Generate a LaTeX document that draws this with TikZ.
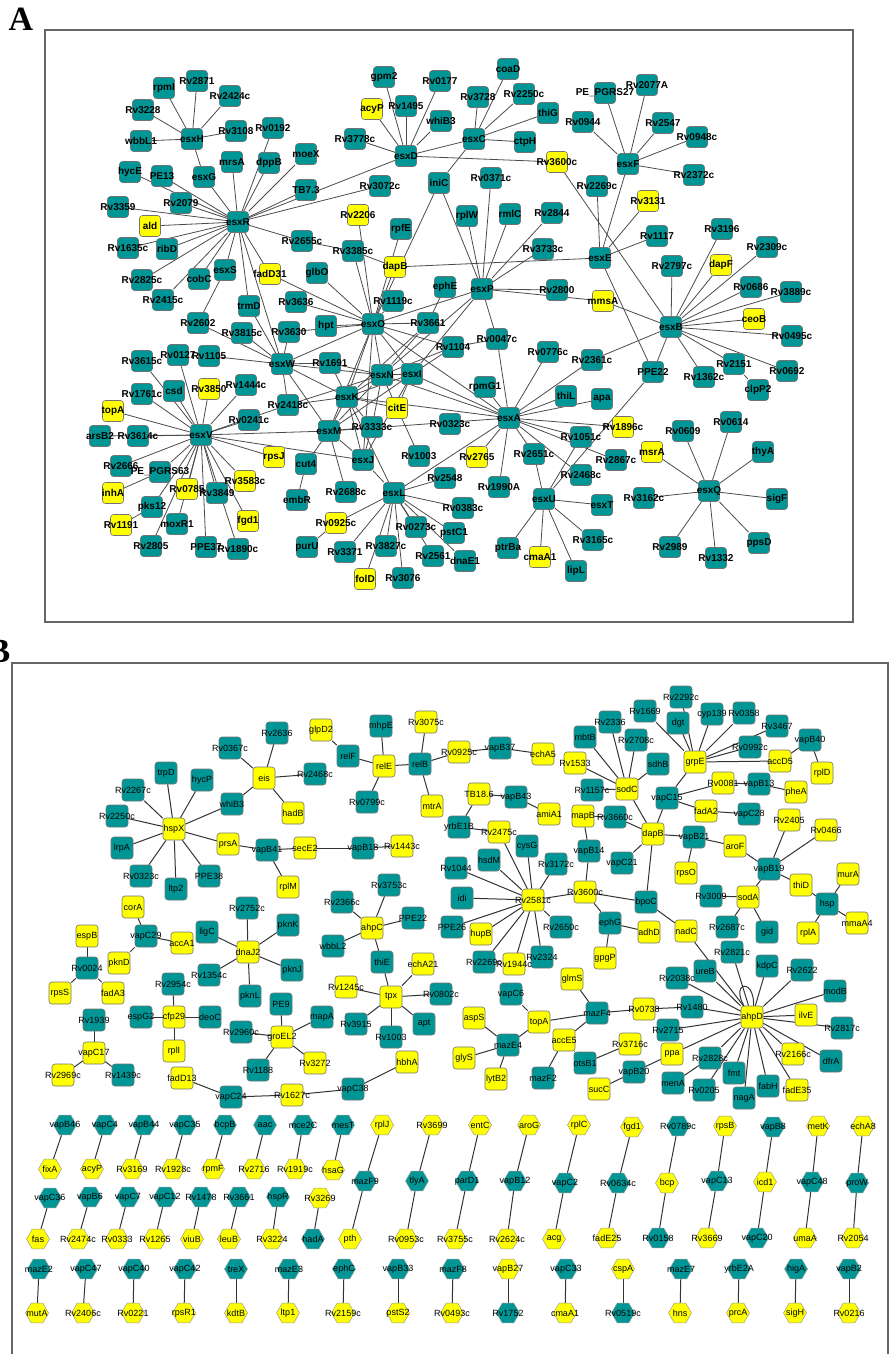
\documentclass[tikz,border=0pt]{standalone}
\usepackage{fontspec}
\setmainfont{Liberation Sans}
\newfontfamily\panelfont{Liberation Serif}
\usetikzlibrary{shapes.geometric,backgrounds}
\definecolor{netteal}{RGB}{0,150,150}
\definecolor{netyellow}{RGB}{255,255,0}
\definecolor{netline}{RGB}{75,75,75}

\def\ateal{esxH/192/139/esxH, rpmI/164/88/rpmI, Rv2871/197/81/Rv2871, Rv2424c/230/96/Rv2424c, Rv3228/143/110/Rv3228,
wbbL1/141/141/wbbL1, Rv3108/236/131/Rv3108, Rv0192/273/128/Rv0192, mrsA/232/162/mrsA, dppB/269/163/dppB,
moeX/306/154/moeX, hycE/130/172/hycE, PE13/162/176/PE13, esxG/204/177/esxG, TB73/306/190/TB7.3,
Rv3359/118/207/Rv3359, Rv2079/181/203/Rv2079, esxR/238/222/esxR, Rv1635c/128/248/Rv1635c, ribD/167/249/ribD,
Rv2655c/302/241/Rv2655c, Rv2825c/142/280/Rv2825c, cobC/199/279/cobC, esxS/225/270/esxS, glbO/317/273/glbO,
Rv2415c/163/300/Rv2415c, trmD/249/306/trmD, Rv3636/296/302/Rv3636, Rv2602/198/323/Rv2602,
gpm2/384/77/gpm2, Rv0177/440/81/Rv0177, coaD/508/69/coaD, Rv1495/406/106/Rv1495, Rv3728/478/97/Rv3728,
Rv2250c/524/94/Rv2250c, thiG/548/113/thiG, whiB3/441/121/whiB3, esxC/474/139/esxC, ctpH/525/142/ctpH,
Rv3778c/355/139/Rv3778c, esxD/406/156/esxD, iniC/439/183/iniC, Rv0371c/491/178/Rv0371c, Rv3072c/380/186/Rv3072c,
rpfE/401/229/rpfE, rplW/467/216/rplW, rmlC/510/214/rmlC, Rv2844/552/213/Rv2844, Rv3385c/353/251/Rv3385c,
Rv3733c/543/249/Rv3733c, ephE/445/287/ephE, esxP/482/289/esxP, Rv2800/557/290/Rv2800, Rv1119c/393/301/Rv1119c,
esxO/373/324/esxO, hpt/326/326/hpt, Rv3661/428/323/Rv3661,
PEPGRS27/605/93/PE\_PGRS27, Rv2077A/647/85/Rv2077A, Rv0944/583/122/Rv0944, Rv2547/663/123/Rv2547, Rv0948c/697/137/Rv0948c,
esxF/628/164/esxF, Rv2372c/694/175/Rv2372c, Rv2269c/597/186/Rv2269c, Rv1117/657/236/Rv1117, esxE/600/258/esxE,
Rv3196/722/229/Rv3196, Rv2309c/767/247/Rv2309c, Rv2797c/672/266/Rv2797c, Rv0686/751/287/Rv0686, Rv3889c/791/292/Rv3889c,
esxB/671/327/esxB, Rv0495c/792/336/Rv0495c, Rv2361c/592/360/Rv2361c, PPE22/653/372/PPE22, Rv1362c/704/377/Rv1362c,
Rv2151/734/364/Rv2151, Rv0692/787/371/Rv0692, clpP2/758/390/clpP2, apa/602/399/apa, Rv0609/683/431/Rv0609,
Rv0614/731/422/Rv0614, thyA/763/452/thyA, Rv2867c/616/460/Rv2867c, esxQ/709/491/esxQ, Rv3162c/644/498/Rv3162c,
sigF/777/499/sigF, esxT/602/505/esxT, Rv3165c/593/540/Rv3165c, Rv2989/670/547/Rv2989, ppsD/759/543/ppsD, Rv1332/716/558/Rv1332,
Rv0047c/497/339/Rv0047c, Rv1104/453/347/Rv1104, Rv0776c/548/352/Rv0776c, Rv1691/330/363/Rv1691, esxN/382/375/esxN,
esxI/412/374/esxI, rpmG1/485/387/rpmG1, thiL/566/396/thiL, esxK/347/397/esxK, esxA/509/418/esxA,
esxM/329/431/esxM, Rv3333c/372/427/Rv3333c, Rv0323c/450/424/Rv0323c, Rv1051c/581/437/Rv1051c, esxJ/363/460/esxJ,
Rv1003/419/456/Rv1003, Rv2651c/534/454/Rv2651c, Rv2468c/581/475/Rv2468c, Rv2548/445/478/Rv2548, Rv2688c/346/492/Rv2688c,
esxL/394/493/esxL, Rv1990A/499/487/Rv1990A, esxU/544/499/esxU, Rv0383c/463/508/Rv0383c, Rv0273c/416/527/Rv0273c,
pstC1/454/533/pstC1, ptrBa/508/548/ptrBa, Rv3371/345/552/Rv3371, Rv3827c/386/546/Rv3827c, Rv2561/433/556/Rv2561,
dnaE1/465/561/dnaE1, lipL/576/571/lipL, Rv3076/403/578/Rv3076, purU/307/547/purU,
Rv3815c/242/333/Rv3815c, Rv3630/289/332/Rv3630, Rv3615c/142/361/Rv3615c, Rv0127/178/355/Rv0127, Rv1105/209/356/Rv1105,
esxW/282/364/esxW, csd/174/391/csd, Rv1444c/246/385/Rv1444c, Rv1761c/142/394/Rv1761c, Rv2418c/288/405/Rv2418c,
Rv0241c/249/420/Rv0241c, arsB2/100/436/arsB2, Rv3614c/138/436/Rv3614c, esxV/201/435/esxV, cut4/306/464/cut4,
Rv2666/121/466/Rv2666, PEPGRS63/160/472/PE\_PGRS63, Rv3849/217/493/Rv3849, embR/297/500/embR, pks12/152/507/pks12,
moxR1/177/524/moxR1, Rv2805/151/546/Rv2805, PPE37/206/547/PPE37, Rv1890c/238/549/Rv1890c}

\def\ayel{ald/150/226/ald, fadD31/270/274/fadD31, acyP/372/109/acyP, Rv3600c/557/162/Rv3600c, Rv2206/358/215/Rv2206,
dapB/395/267/dapB, Rv3131/648/201/Rv3131, dapF/721/265/dapF, mmsA/603/301/mmsA, ceoB/754/319/ceoB,
Rv1896c/623/427/Rv1896c, msrA/652/452/msrA, citE/397/408/citE, Rv2765/477/457/Rv2765, Rv0925c/336/523/Rv0925c,
folD/365/579/folD, cmaA1/540/557/cmaA1, Rv3850/209/389/Rv3850, topA/113/411/topA, rpsJ/274/457/rpsJ,
inhA/113/493/inhA, Rv0785/187/489/Rv0785, Rv3583c/245/481/Rv3583c, fgd1/248/521/fgd1, Rv1191/121/525/Rv1191}

\def\bteal{bRv2636/277/733/Rv2636, bRv0367c/230/748/Rv0367c, bRv2468c/315/774/Rv2468c, btrpD/166/773/trpD,
bhycP/202/780/hycP, bRv2267c/133/790/Rv2267c, bwhiB3/232/804/whiB3, bRv2250c/117/816/Rv2250c, bvapB41/267/850/vapB41,
blrpA/122/848/lrpA, bRv0323c/141/876/Rv0323c, bPPE38/209/876/PPE38, bltp2/176/889/ltp2, bRv2752c/247/908/Rv2752c,
bligC/207/932/ligC, bpknK/288/925/pknK, bvapC29/146/936/vapC29, bRv0024/87/968/Rv0024, bpknJ/292/970/pknJ,
bRv1354c/209/975/Rv1354c, bpknL/250/996/pknL, bRv2954c/173/984/Rv2954c, bPE9/281/1004/PE9, bespG2/141/1017/espG2,
bdeoC/210/1017/deoC, bRv1939/94/1020/Rv1939, bRv2960c/241/1032/Rv2960c, bRv1188/258/1070/Rv1188, bRv1439c/123/1075/Rv1439c,
bvapC24/231/1097/vapC24, bmapA/322/1017/mapA, bmhpE/381/726/mhpE, brelF/348/756/relF, brelB/420/764/relB,
bvapB37/500/748/vapB37, bRv0799c/367/802/Rv0799c, bvapB43/516/797/vapB43, bmbtB/585/737/mbtB, byrbE1B/459/827/yrbE1B,
bcysG/527/846/cysG, bvapB18/363/848/vapB18, bhsdM/489/860/hsdM, bRv1044/456/868/Rv1044, bRv3172c/556/864/Rv3172c,
bvapB14/589/851/vapB14, bRv3753c/389/885/Rv3753c, bidi/462/898/idi, bRv2366c/342/902/Rv2366c, bPPE22/413/918/PPE22,
bPPE26/452/927/PPE26, bRv2650c/561/927/Rv2650c, bwbbL2/333/946/wbbL2, bthiE/382/962/thiE, bRv2269c/484/962/Rv2269c,
bRv2324/542/957/Rv2324, bRv0802c/441/994/Rv0802c, bvapC6/511/994/vapC6, bmazF4/597/1013/mazF4, bRv3915/356/1024/Rv3915,
bapt/424/1024/apt, bRv1003/391/1037/Rv1003, bmazE4/508/1045/mazE4, botsB1/585/1063/otsB1, bmazF2/543/1078/mazF2,
bvapC38/353/1089/vapC38, bRv2292c/681/697/Rv2292c, bRv1669/645/711/Rv1669, bdgt/678/723/dgt, bcyp139/712/714/cyp139,
bRv0358/744/713/Rv0358, bRv2336/610/722/Rv2336, bRv3467/777/726/Rv3467, bvapB40/810/740/vapB40, bRv2708c/636/740/Rv2708c,
bRv0992c/750/747/Rv0992c, bsdhB/658/764/sdhB, bRv1157c/592/790/Rv1157c, bvapB13/759/784/vapB13, bvapC15/667/798/vapC15,
bvapC28/749/814/vapC28, bRv3660c/615/817/Rv3660c, bvapB21/694/837/vapB21, bvapC21/622/863/vapC21, bvapB19/769/869/vapB19,
bRv3009/711/896/Rv3009, bbpoC/646/902/bpoC, bhsp/827/904/hsp, bRv2687c/727/927/Rv2687c, bgid/767/932/gid,
bephG/610/923/ephG, bRv2821c/732/952/Rv2821c, bkdpC/767/966/kdpC, bRv2622/802/970/Rv2622, bureB/705/971/ureB,
bRv2038c/677/978/Rv2038c, bmodB/835/991/modB, bRv1480/692/1007/Rv1480, bRv2817c/842/1028/Rv2817c, bRv2715/668/1030/Rv2715,
bRv2828c/710/1058/Rv2828c, bdfrA/831/1061/dfrA, bfmt/734/1073/fmt, bfabH/768/1086/fabH, bmenA/673/1083/menA,
bRv0205/704/1090/Rv0205, bnagA/744/1098/nagA, bvapB20/634/1072/vapB20}

\def\byel{beis/264/778/eis, bhadB/293/813/hadB, bhspX/174/829/hspX, bprsA/228/844/prsA, bsecE2/305/848/secE2,
brplM/288/887/rplM, bcorA/133/907/corA, bespB/87/936/espB, baccA1/182/943/accA1, bdnaJ2/248/952/dnaJ2,
bpknD/119/963/pknD, brpsS/60/993/rpsS, bfadA3/113/993/fadA3, bcfp29/174/1017/cfp29, bgroEL2/282/1037/groEL2,
brplI/174/1051/rplI, bvapC17/94/1053/vapC17, bRv2969c/63/1075/Rv2969c, bfadD13/182/1078/fadD13, bRv1627c/292/1095/Rv1627c,
bRv3272/315/1063/Rv3272, bglpD2/321/730/glpD2, bRv3075c/426/722/Rv3075c, brelE/384/766/relE, bRv0925c/459/752/Rv0925c,
bechA5/543/754/echA5, bmtrA/432/806/mtrA, bTB186/479/794/TB18.6, bamiA1/549/814/amiA1, bRv1533/575/763/Rv1533,
bRv2475c/499/832/Rv2475c, bmapB/583/816/mapB, bRv1443c/402/846/Rv1443c, bRv2581c/533/900/Rv2581c, bRv3600c/585/892/Rv3600c,
bahpC/372/928/ahpC, bhupB/481/934/hupB, bRv1944c/514/964/Rv1944c, bechA21/423/964/echA21, bglmS/572/979/glmS,
bRv1245c/346/987/Rv1245c, btpx/391/997/tpx, baspS/474/1018/aspS, btopA/539/1022/topA, baccE5/564/1040/accE5,
bglyS/464/1058/glyS, bhbhA/407/1062/hbhA, blytB2/496/1079/lytB2, bsucC/599/1089/sucC, bgrpE/695/762/grpE,
baccD5/780/761/accD5, brplD/822/773/rplD, bsodC/627/789/sodC, bRv0081/723/783/Rv0081, bpheA/796/792/pheA,
bfadA2/706/811/fadA2, bRv2405/789/820/Rv2405, bRv0466/826/830/Rv0466, bdapB/653/834/dapB, baroF/735/846/aroF,
brpsO/686/873/rpsO, bmurA/848/874/murA, bthiD/801/885/thiD, bsodA/748/897/sodA, bmmaA4/857/923/mmaA4,
badhD/649/932/adhD, bnadC/686/931/nadC, brplA/808/933/rplA, bgpgP/605/958/gpgP, bRv0738/644/1009/Rv0738,
bahpD/752/1017/ahpD, bilvE/806/1015/ilvE, bRv3716c/630/1044/Rv3716c, bppa/672/1054/ppa, bRv2166c/793/1054/Rv2166c,
bfadE35/797/1090/fadE35}

\def\hteal{hvapB46/65/1125/vapB46, hvapC4/105/1125/vapC4, hvapB44/144/1125/vapB44, hvapC35/185/1125/vapC35,
hbcpB/225/1125/bcpB, haac/265/1125/aac, hmce2C/303/1125/mce2C, hmesT/343/1125/mesT, hmazF9/365/1181/mazF9,
htlyA/417/1181/tlyA, hparD1/467/1181/parD1, hvapB12/515/1181/vapB12, hvapC2/565/1183/vapC2, hRv0634c/618/1183/Rv0634c,
hRv0789c/678/1126/Rv0789c, hRv0158/658/1238/Rv0158, hvapC13/717/1181/vapC13, hvapB8/773/1127/vapB8, hvapC20/757/1238/vapC20,
hvapC48/812/1182/vapC48, hproW/857/1183/proW, hvapC36/50/1198/vapC36, hvapB6/90/1197/vapB6, hvapC7/128/1197/vapC7,
hvapC12/165/1197/vapC12, hRv1478/201/1197/Rv1478, hRv3661/239/1197/Rv3661, hhspR/278/1197/hspR, hhadA/313/1239/hadA,
hmazE2/39/1269/mazE2, hvapC47/86/1269/vapC47, hvapC40/134/1269/vapC40, hvapC42/185/1269/vapC42, htreX/236/1269/treX,
hmazE3/289/1269/mazE3, hephC/344/1269/ephC, hvapB33/398/1269/vapB33, hmazF8/453/1269/mazF8, hRv1752/508/1313/Rv1752,
hvapC33/566/1269/vapC33, hRv0519c/623/1313/Rv0519c, hmazE7/681/1269/mazE7, hyrbE2A/739/1269/yrbE2A, hhigA/796/1269/higA,
hvapB2/849/1269/vapB2}

\def\hyel{hfixA/50/1169/fixA, hacyP/92/1169/acyP, hRv3169/132/1169/Rv3169, hRv1928c/173/1169/Rv1928c, hrpmF/213/1169/rpmF,
hRv2716/254/1169/Rv2716, hRv1919c/295/1169/Rv1919c, hhsaG/333/1170/hsaG, hrplJ/382/1125/rplJ, hpth/350/1239/pth,
hRv3699/432/1125/Rv3699, hRv0953c/406/1239/Rv0953c, hentC/480/1125/entC, hRv3755c/455/1239/Rv3755c, haroG/529/1125/aroG,
hRv2624c/507/1239/Rv2624c, hrplC/579/1125/rplC, hacg/554/1239/acg, hfgd1/632/1127/fgd1, hfadE25/607/1238/fadE25,
hbcp/667/1183/bcp, hrpsB/725/1126/rpsB, hRv3669/707/1238/Rv3669, hicd1/765/1182/icd1, hmetK/818/1126/metK,
humaA/805/1238/umaA, hechA8/863/1126/echA8, hRv2054/853/1238/Rv2054, hfas/38/1239/fas, hRv2474c/78/1239/Rv2474c,
hRv0333/117/1239/Rv0333, hRv1265/155/1239/Rv1265, hviuB/192/1239/viuB, hleuB/229/1239/leuB, hRv3224/272/1239/Rv3224,
hRv3269/320/1198/Rv3269, hmutA/37/1313/mutA, hRv2406c/83/1313/Rv2406c, hRv0221/133/1313/Rv0221, hrpsR1/184/1313/rpsR1,
hkdtB/236/1313/kdtB, hltp1/288/1313/ltp1, hRv2159c/343/1313/Rv2159c, hpstS2/398/1313/pstS2, hRv0493c/452/1313/Rv0493c,
hvapB27/508/1269/vapB27, hcmaA1/565/1313/cmaA1, hcspA/623/1269/cspA, hhns/680/1313/hns, hprcA/738/1313/prcA,
hsigH/795/1313/sigH, hRv0216/849/1313/Rv0216}

\begin{document}
\begin{tikzpicture}[x=1pt,y=-1pt,
  boxa/.style={rectangle,rounded corners=3pt,draw=black!55,line width=0.6pt,minimum size=21pt,inner sep=0pt},
  boxb/.style={rectangle,rounded corners=3pt,draw=black!55,line width=0.6pt,minimum size=22pt,inner sep=0pt},
  hexb/.style={regular polygon,regular polygon sides=6,draw=black!40,line width=0.5pt,minimum size=23pt,inner sep=0pt},
  lbla/.style={font=\fontsize{10}{12}\selectfont\bfseries,inner sep=0pt},
  lblb/.style={font=\fontsize{9}{11}\selectfont,inner sep=0pt},
  edgea/.style={draw=netline,line width=0.8pt},
  edgeb/.style={draw=black!80,line width=1pt},
  frame/.style={draw=black!60,line width=1.6pt},
  panel/.style={font=\panelfont\fontsize{34}{36}\selectfont\bfseries,inner sep=0pt}]
\useasboundingbox (0,0) rectangle (890,1354);
\node[panel] (labA) at (21,19) {A};
\node[panel] (labB) at (-1,651) {B};
\foreach \n/\x/\y/\t in \ateal {\node[boxa,fill=netteal] (\n) at (\x,\y) {};}
\foreach \n/\x/\y/\t in \ayel {\node[boxa,fill=netyellow] (\n) at (\x,\y) {};}
\foreach \n/\x/\y/\t in \bteal {\node[boxb,fill=netteal] (\n) at (\x,\y) {};}
\foreach \n/\x/\y/\t in \byel {\node[boxb,fill=netyellow] (\n) at (\x,\y) {};}
\foreach \n/\x/\y/\t in \hteal {\node[hexb,fill=netteal] (\n) at (\x,\y) {};}
\foreach \n/\x/\y/\t in \hyel {\node[hexb,fill=netyellow] (\n) at (\x,\y) {};}
\foreach \n/\x/\y/\t in \ateal {\node[lbla] at (\n) {\t};}
\foreach \n/\x/\y/\t in \ayel {\node[lbla] at (\n) {\t};}
\foreach \n/\x/\y/\t in \bteal {\node[lblb] at (\n) {\t};}
\foreach \n/\x/\y/\t in \byel {\node[lblb] at (\n) {\t};}
\foreach \n/\x/\y/\t in \hteal {\node[lblb] at (\n) {\t};}
\foreach \n/\x/\y/\t in \hyel {\node[lblb] at (\n) {\t};}
\begin{scope}[on background layer]
\draw[frame] (45,30) rectangle (853,622);
\draw[frame] (12,663) rectangle (888,1380);
\foreach \a/\b in {esxH/rpmI, esxH/Rv2871, esxH/Rv2424c, esxH/Rv3228, esxH/wbbL1, esxH/Rv3108, esxH/esxG,
esxR/esxG, esxR/mrsA, esxR/dppB, esxR/Rv0192, esxR/moeX, esxR/TB73, esxR/esxD, esxR/Rv3072c, esxR/hycE, esxR/PE13,
esxR/Rv2079, esxR/Rv3359, esxR/ald, esxR/Rv1635c, esxR/ribD, esxR/Rv2825c, esxR/cobC, esxR/esxS, esxR/Rv2415c,
esxR/fadD31, esxR/Rv2655c, esxR/trmD, esxR/esxW, esxS/Rv2602, Rv2602/esxW, trmD/esxW, fadD31/esxO, glbO/esxO,
Rv3636/esxO, Rv3630/esxW, Rv3630/esxO, Rv3815c/esxW, hpt/esxO, Rv2655c/Rv3385c, Rv3385c/dapB, Rv3385c/esxO,
Rv2206/esxO, rpfE/esxO, dapB/esxO, iniC/esxO, Rv1119c/esxO, dapB/esxE,
esxD/gpm2, esxD/acyP, esxD/Rv1495, esxD/Rv0177, esxD/whiB3, esxD/Rv3778c, esxD/esxC, esxD/Rv3600c,
esxC/Rv3728, esxC/coaD, esxC/Rv2250c, esxC/thiG, esxC/ctpH, esxC/iniC, iniC/esxP,
esxP/Rv0371c, esxP/rplW, esxP/rmlC, esxP/Rv2844, esxP/Rv3733c, esxP/Rv2800, esxP/mmsA, esxP/esxO, esxP/esxI,
esxP/esxN, esxP/Rv0047c, ephE/Rv3661, Rv3600c/esxB, Rv2269c/esxE, esxF/PEPGRS27, esxF/Rv2077A, esxF/Rv0944,
esxF/Rv2547, esxF/Rv0948c, esxF/Rv2372c, esxF/esxE, esxE/Rv3131, esxE/Rv1117, esxE/PPE22,
esxB/Rv3196, esxB/Rv2309c, esxB/Rv2797c, esxB/dapF, esxB/Rv0686, esxB/Rv3889c, esxB/ceoB, esxB/mmsA, esxB/Rv0495c,
esxB/Rv0692, esxB/Rv2151, esxB/Rv1362c, esxB/PPE22, esxB/Rv2361c, Rv2151/clpP2, PPE22/esxU,
esxA/Rv0776c, esxA/Rv2361c, esxA/thiL, esxA/apa, esxA/Rv1051c, esxA/Rv2468c, esxA/Rv2651c, esxA/Rv1990A, esxA/Rv2765,
esxA/esxL, esxA/esxM, esxA/esxK, esxA/esxI, esxA/esxN, esxA/rpmG1, esxA/esxO, esxA/Rv1896c, esxA/Rv2867c, esxA/Rv0047c,
esxU/Rv2651c, esxU/Rv1051c, esxU/esxT, esxU/ptrBa, esxU/cmaA1, esxU/lipL, esxU/Rv3165c,
esxQ/msrA, esxQ/Rv0609, esxQ/Rv0614, esxQ/thyA, esxQ/Rv3162c, esxQ/sigF, esxQ/Rv2989, esxQ/Rv1332, esxQ/ppsD,
esxL/Rv2548, esxL/Rv0383c, esxL/pstC1, esxL/dnaE1, esxL/Rv2561, esxL/Rv0273c, esxL/Rv3076, esxL/Rv3827c, esxL/folD,
esxL/Rv3371, esxL/Rv0925c, esxL/esxJ, esxL/esxK, Rv0925c/purU, esxM/Rv2688c,
esxO/esxN, esxO/esxI, esxO/esxK, esxO/esxM, esxO/esxW, esxO/Rv3661, esxO/Rv1104, esxO/esxJ,
esxW/Rv1691, esxW/esxK, esxW/esxN, esxW/esxM, esxW/Rv2418c, esxW/Rv1105,
esxV/Rv3615c, esxV/Rv0127, esxV/csd, esxV/Rv3850, esxV/Rv1444c, esxV/Rv1761c, esxV/topA, esxV/Rv0241c, esxV/Rv3614c,
esxV/arsB2, esxV/Rv2666, esxV/PEPGRS63, esxV/Rv0785, esxV/Rv3849, esxV/Rv3583c, esxV/fgd1, esxV/pks12, esxV/moxR1,
esxV/Rv2805, esxV/PPE37, esxV/Rv1890c, esxV/rpsJ, esxV/esxM, esxV/esxJ, esxV/Rv2418c, inhA/PEPGRS63, Rv1191/pks12,
Rv2418c/esxK, Rv2418c/esxN, Rv3661/esxK, Rv3661/esxN, Rv1104/esxI, Rv1104/esxN, Rv1104/Rv0047c,
esxN/esxK, esxN/esxI, esxN/citE, esxN/esxM, esxN/Rv3333c, esxI/esxK, esxI/citE, esxI/esxM, esxI/esxJ,
esxK/esxM, esxK/Rv3333c, esxK/esxJ, esxK/Rv1691, esxM/Rv3333c, esxM/esxJ, cut4/esxM, embR/cut4, citE/Rv1003,
Rv3333c/esxJ, esxK/citE, Rv1691/esxN} \draw[edgea] (\a) -- (\b);
\foreach \a/\b in {beis/bRv2636, beis/bRv0367c, beis/bRv2468c, beis/bwhiB3, beis/bhadB,
bhspX/btrpD, bhspX/bhycP, bhspX/bRv2267c, bhspX/bRv2250c, bhspX/bwhiB3, bhspX/blrpA, bhspX/bRv0323c, bhspX/bltp2,
bhspX/bPPE38, bhspX/bprsA, bprsA/bvapB41, bvapB41/bsecE2, bvapB41/brplM, bsecE2/bvapB18, bvapB18/bRv1443c,
bglpD2/brelF, brelF/brelE, brelE/bmhpE, brelE/bRv0799c, brelE/brelB, brelB/bRv3075c, brelB/bmtrA, brelB/bRv0925c,
bRv0925c/bvapB37, bvapB37/bechA5, bTB186/bvapB43, bvapB43/bamiA1, bTB186/byrbE1B, byrbE1B/bRv2475c,
bRv2581c/bRv2475c, bRv2581c/bcysG, bRv2581c/bhsdM, bRv2581c/bRv1044, bRv2581c/bRv3172c, bRv2581c/bidi,
bRv2581c/bPPE26, bRv2581c/bhupB, bRv2581c/bRv2269c, bRv2581c/bRv1944c, bRv2581c/bRv2324, bRv2581c/bRv2650c,
bRv2581c/bRv3600c, bRv3600c/bbpoC, bRv3600c/bvapB14, bvapB14/bmapB, bmapB/bRv3660c, bRv3660c/bdapB,
bdapB/bsodC, bdapB/bvapC15, bdapB/bvapC21, bdapB/bvapB21, bdapB/bbpoC,
bsodC/bRv2336, bsodC/bRv2708c, bsodC/bsdhB, bsodC/bRv1157c, bsodC/bmbtB, bsodC/bRv1533,
bgrpE/bRv1669, bgrpE/bdgt, bgrpE/bRv2292c, bgrpE/bcyp139, bgrpE/bRv0358, bgrpE/bRv3467, bgrpE/bRv0992c,
bgrpE/baccD5, bgrpE/bvapC15, baccD5/bvapB40, bvapB40/brplD, bvapC15/bRv0081, bRv0081/bvapB13, bvapB13/bpheA,
bvapC15/bfadA2, bfadA2/bvapC28, bvapB21/baroF, bvapB21/brpsO, baroF/bvapB19, bvapB19/bRv2405, bvapB19/bRv0466,
bvapB19/bthiD, bvapB19/bsodA, bthiD/bhsp, bhsp/bmurA, bhsp/bmmaA4, bhsp/brplA, bsodA/bRv3009, bsodA/bRv2687c,
bsodA/bgid, bbpoC/bnadC, bnadC/bahpD, bephG/badhD, bephG/bgpgP, bRv3600c/bephG,
bahpD/bRv2821c, bahpD/bkdpC, bahpD/bRv2622, bahpD/bureB, bahpD/bRv2038c, bahpD/bmodB, bahpD/bRv1480, bahpD/bilvE,
bahpD/bRv2817c, bahpD/bRv2715, bahpD/bppa, bahpD/bRv2828c, bahpD/bRv2166c, bahpD/bdfrA, bahpD/bfmt, bahpD/bfabH,
bahpD/bfadE35, bahpD/bnagA, bahpD/bRv0205, bmazF4/bRv0738, bRv0738/bRv1480, bmazF4/btopA, bmazF4/bglmS,
bmazF4/baccE5, btopA/bmazE4, btopA/bvapC6, bmazE4/baspS, bmazE4/bglyS, bmazE4/blytB2, baccE5/bmazF2,
baccE5/botsB1, botsB1/bRv3716c, bppa/bvapB20, bvapB20/bsucC, bmenA/bRv2828c,
bahpC/bRv2366c, bahpC/bRv3753c, bahpC/bPPE22, bahpC/bwbbL2, bahpC/bthiE, bthiE/btpx,
btpx/bechA21, btpx/bRv1245c, btpx/bRv0802c, btpx/bRv3915, btpx/bRv1003, btpx/bapt,
bhbhA/bvapC38, bvapC38/bRv1627c, bRv1627c/bvapC24, bvapC24/bfadD13,
bdnaJ2/bRv2752c, bdnaJ2/bligC, bdnaJ2/bpknK, bdnaJ2/bRv1354c, bdnaJ2/bpknJ, bdnaJ2/bpknL,
bvapC29/bcorA, bvapC29/baccA1, bvapC29/bpknD, bRv0024/bespB, bRv0024/brpsS, bRv0024/bfadA3,
bcfp29/bRv2954c, bcfp29/bespG2, bcfp29/bdeoC, bcfp29/brplI, bgroEL2/bPE9, bgroEL2/bRv2960c, bgroEL2/bRv1188,
bgroEL2/bRv3272, bgroEL2/bmapA, bvapC17/bRv1939, bvapC17/bRv2969c, bvapC17/bRv1439c} \draw[edgeb] (\a) -- (\b);
\draw[edgeb] (bahpD.center) .. controls (762,972) and (720,980) .. (bahpD.center);
\foreach \a/\b in {hvapB46/hfixA, hvapC4/hacyP, hvapB44/hRv3169, hvapC35/hRv1928c, hbcpB/hrpmF, haac/hRv2716,
hmce2C/hRv1919c, hmesT/hhsaG, hrplJ/hmazF9, hmazF9/hpth, hRv3699/htlyA, htlyA/hRv0953c, hentC/hparD1,
hparD1/hRv3755c, haroG/hvapB12, hvapB12/hRv2624c, hrplC/hvapC2, hvapC2/hacg, hfgd1/hRv0634c, hRv0634c/hfadE25,
hRv0789c/hbcp, hbcp/hRv0158, hrpsB/hvapC13, hvapC13/hRv3669, hvapB8/hicd1, hicd1/hvapC20, hmetK/hvapC48,
hvapC48/humaA, hechA8/hproW, hproW/hRv2054, hvapC36/hfas, hvapB6/hRv2474c, hvapC7/hRv0333, hvapC12/hRv1265,
hRv1478/hviuB, hRv3661/hleuB, hhspR/hRv3224, hRv3269/hhadA, hmazE2/hmutA, hvapC47/hRv2406c, hvapC40/hRv0221,
hvapC42/hrpsR1, htreX/hkdtB, hmazE3/hltp1, hephC/hRv2159c, hvapB33/hpstS2, hmazF8/hRv0493c, hvapB27/hRv1752,
hvapC33/hcmaA1, hcspA/hRv0519c, hmazE7/hhns, hyrbE2A/hprcA, hhigA/hsigH, hvapB2/hRv0216} \draw[edgeb] (\a) -- (\b);
\end{scope}
\end{tikzpicture}
\end{document}
